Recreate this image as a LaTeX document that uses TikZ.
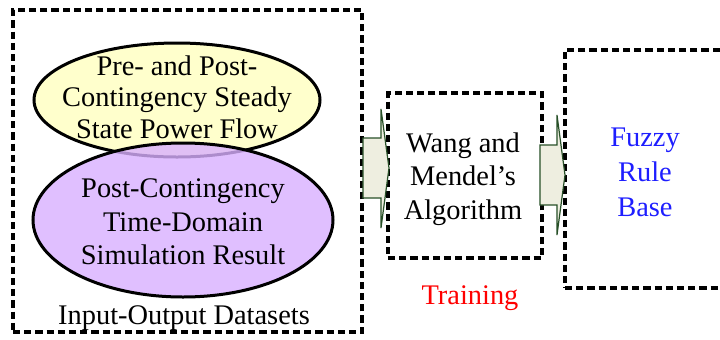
\documentclass[tikz,border=0pt]{standalone}
\usepackage{fontspec}
\setmainfont{Liberation Serif}
\usetikzlibrary{shapes.geometric}
\definecolor{ssyellow}{RGB}{255,255,204}
\definecolor{simpurple}{RGB}{217,176,255}
\definecolor{arrowfill}{RGB}{238,238,224}
\definecolor{arrowline}{RGB}{40,80,40}
\definecolor{rulecol}{RGB}{30,30,255}
\begin{document}
\begin{tikzpicture}[x=0.5pt,y=-0.5pt,font=\fontsize{14.2}{16.8}\selectfont,
  dashbox/.style={rectangle,draw=black,line width=1.6pt,dash pattern=on 3.6pt off 2pt,inner sep=0pt},
  dataell/.style={ellipse,draw=black,line width=1.5pt,inner sep=0pt},
  blockarrow/.style={draw=arrowline,fill=arrowfill,line width=0.6pt}]
  \clip (0,0) rectangle (720,339);
  \fill[white] (0,0) rectangle (720,339);

  % datasets
  \node[dashbox,minimum width=174.5pt,minimum height=161pt] (data) at (187.5,171) {};
  \node[dataell,fill=ssyellow,minimum width=143pt,minimum height=57pt] (ssflow) at (177,100) {};
  \node[align=center,font=\fontsize{14.2}{15.8}\selectfont] (ssflowtxt) at (177,97) {Pre- and Post-\\Contingency Steady\\State Power Flow};
  \node[dataell,fill=simpurple,fill opacity=0.8,minimum width=150pt,minimum height=77pt] (tdsim) at (183,220) {};
  \node[align=center] (tdsimtxt) at (183,222) {Post-Contingency\\Time-Domain\\Simulation Result};
  \node (datatxt) at (184,318) {Input-Output Datasets};

  % training
  \node[dashbox,minimum width=77pt,minimum height=82.5pt] (wm) at (465,175.5) {};
  \node[align=center] (wmtxt) at (463,179) {Wang and\\Mendel’s\\Algorithm};
  \node[text=red] (train) at (470,298) {Training};

  % rule base
  \node[dashbox,minimum width=80pt,minimum height=119pt] (frb) at (645,169) {};
  \node[align=center,text=rulecol,font=\fontsize{14.2}{17.5}\selectfont] (frbtxt) at (645,172) {Fuzzy\\Rule\\Base};

  % arrows
  \draw[blockarrow] (363,138) -- (381,138) -- (381,109) -- (389,168) -- (381,228) -- (381,198) -- (363,198) -- cycle;
  \draw[blockarrow] (540,145) -- (557,145) -- (557,115) -- (565,175) -- (557,235) -- (557,205) -- (540,205) -- cycle;
\end{tikzpicture}
\end{document}
